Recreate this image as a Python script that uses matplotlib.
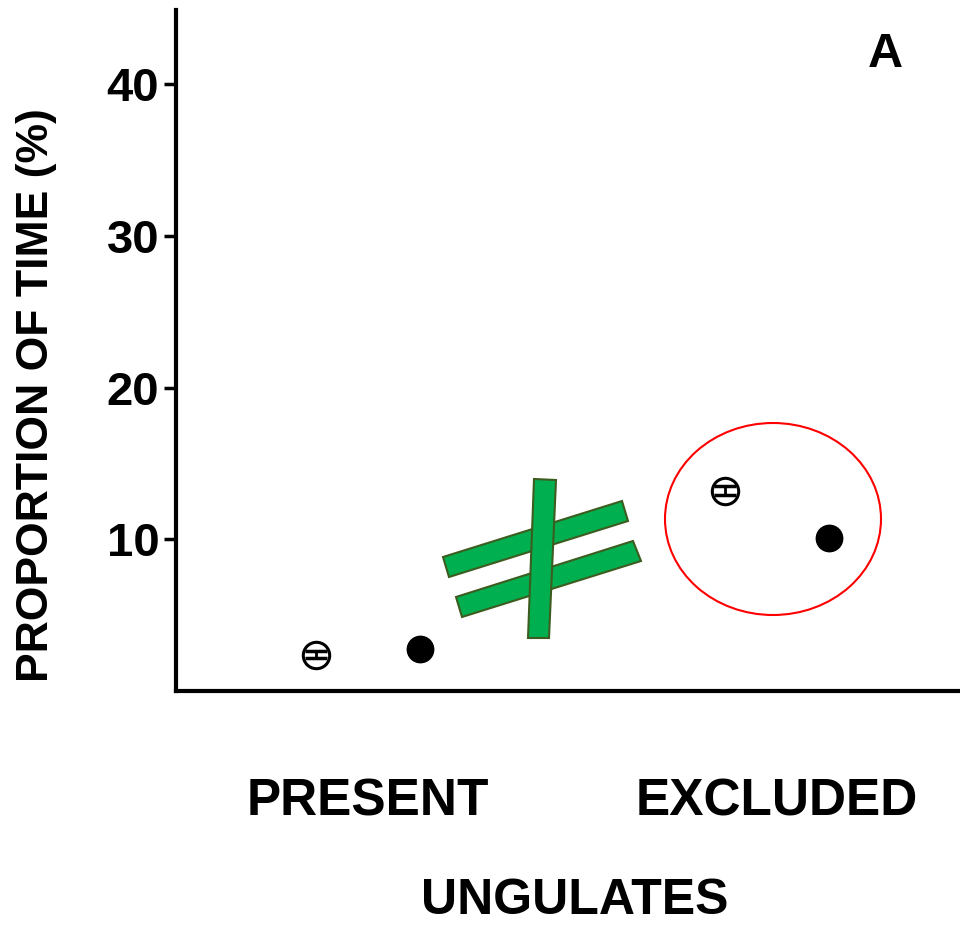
import numpy as np
import matplotlib
matplotlib.use('Agg')
import matplotlib.pyplot as plt
from matplotlib.patches import Ellipse, Polygon

plt.rcParams['font.family'] = ['Liberation Sans', 'DejaVu Sans']

categories = ['PRESENT', 'EXCLUDED']
open_means = [2.4, 13.2]
open_err = [0.25, 0.3]
filled_means = [2.8, 10.1]
filled_err = [0.1, 0.35]
yticks = [10, 20, 30, 40]

W, H = 960, 926
fig = plt.figure(figsize=(W / 100, H / 100), dpi=100)
ax_l, ax_r, ax_b, ax_t = 176, 960, 691, 10
ax = fig.add_axes([ax_l / W, 1 - ax_b / H, (ax_r - ax_l) / W, (ax_b - ax_t) / H])

x = np.arange(len(categories))
off = 0.127

# markers first, error bars drawn over them
ax.plot(x - off, open_means, 'o', ms=19, mfc='white', mec='black', mew=2.2,
        zorder=3)
ax.plot(x + off, filled_means, 'o', ms=19, mfc='black', mec='black', zorder=3)
ax.errorbar(x - off, open_means, yerr=open_err, fmt='none', ecolor='black',
            elinewidth=2, capsize=8, capthick=2.5, zorder=4)
ax.errorbar(x + off, filled_means, yerr=filled_err, fmt='none', ecolor='black',
            elinewidth=2, capsize=8, capthick=3, zorder=4)

ax.set_xlim(-0.469, 1.447)
ax.set_ylim(0, 44.9)
ax.set_yticks(yticks)
ax.set_yticklabels([str(t) for t in yticks], fontsize=34, fontweight='bold')
ax.set_xticks(x)
ax.set_xticklabels(categories, fontsize=37, fontweight='bold')
ax.tick_params(axis='x', length=0, pad=62)
ax.tick_params(axis='y', length=9, width=2.5, pad=3)
ax.spines['top'].set_visible(False)
ax.spines['right'].set_visible(False)
ax.spines['left'].set_linewidth(3)
ax.spines['bottom'].set_linewidth(3)

ax.set_xlabel('UNGULATES', fontsize=36, fontweight='bold', va='center')
ax.xaxis.set_label_coords(0.509, (ax_b - 901) / (ax_b - ax_t))
ax.set_ylabel('PROPORTION OF TIME (%)', fontsize=32, fontweight='bold',
              va='center')
ax.yaxis.set_label_coords((37 - ax_l) / (ax_r - ax_l), (ax_b - 395) / (ax_b - ax_t))
ax.text(0.905, 0.935, 'A', transform=ax.transAxes, fontsize=35,
        fontweight='bold', ha='center', va='center')


def px(pts):
    return [((p[0] - ax_l) / (ax_r - ax_l), (ax_b - p[1]) / (ax_b - ax_t))
            for p in pts]


ax.add_patch(Ellipse(px([(773, 519)])[0], 216 / (ax_r - ax_l),
                     192 / (ax_b - ax_t), transform=ax.transAxes,
                     fill=False, ec='red', lw=1.5, clip_on=False))

green, dark = '#00b050', '#3d5c1f'
bars = [
    [(443, 557), (622, 501), (628, 521), (449, 577)],
    [(456, 597), (633, 541), (641, 561), (462, 617)],
    [(534, 479), (556, 480), (549, 638), (528, 638)],
]
for b in bars:
    ax.add_patch(Polygon(px(b), closed=True, transform=ax.transAxes,
                         fc=green, ec=dark, lw=1.5, clip_on=False, zorder=4))

fig.savefig('out.png', dpi=100)
